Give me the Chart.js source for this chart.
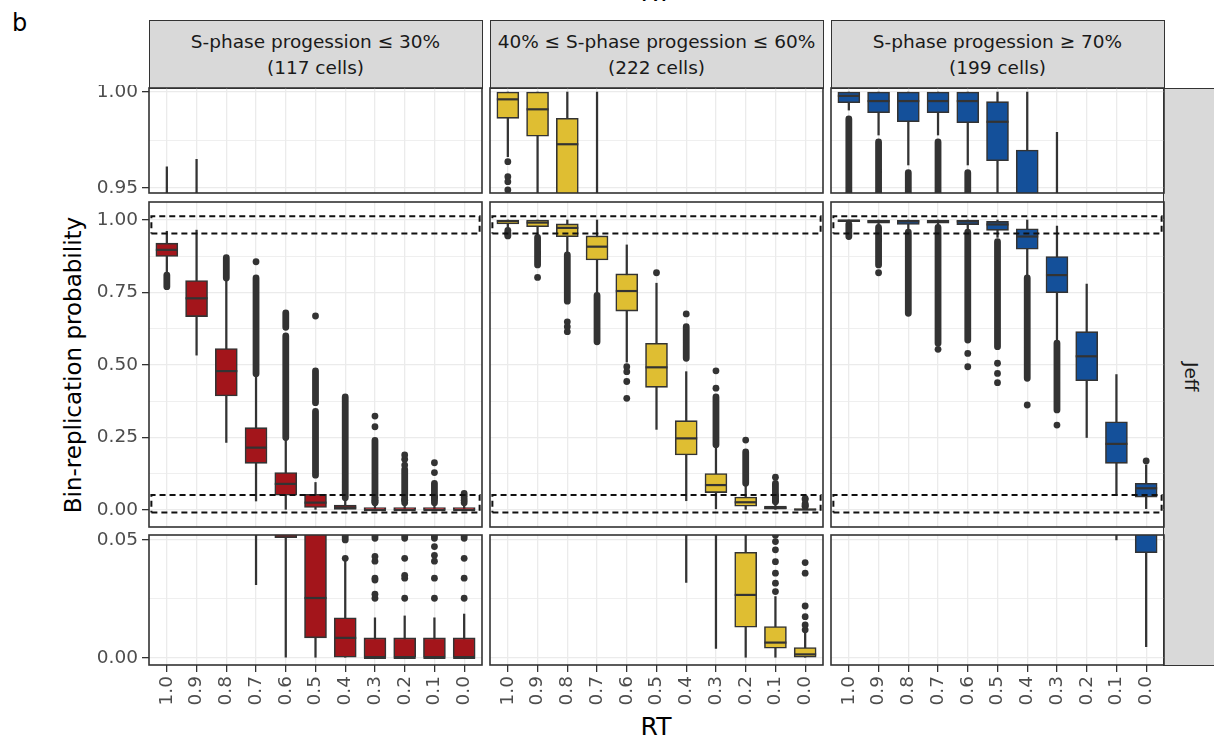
<!DOCTYPE html>
<html lang="en">
<head>
<meta charset="UTF-8">
<title>Bin-replication probability by RT</title>
<script src="https://cdn.jsdelivr.net/npm/chart.js"></script>
<style>
  body { margin: 0; background: #fff; font-family: 'DejaVu Sans', sans-serif; }
  #fig { position: relative; width: 1214px; height: 738px; overflow: hidden; background: #fff; }
  .strip-top { position: absolute; top: 20px; height: 69px; width: 334px; box-sizing: border-box;
    background: #d9d9d9; border: 1.5px solid #333; color: #1a1a1a; font-size: 18.5px; line-height: 26px;
    display: flex; flex-direction: column; justify-content: center; align-items: center; white-space: nowrap; }
  .strip-right { position: absolute; left: 1163px; top: 88px; width: 56px; height: 578px; box-sizing: border-box;
    background: #d9d9d9; border: 1.5px solid #333; color: #1a1a1a; font-size: 18.5px;
    display: flex; justify-content: center; align-items: center; }
  .strip-right span { writing-mode: vertical-rl; }
  .title { position: absolute; color: #000; white-space: nowrap; line-height: 1; }
</style>
</head>
<body>
<div id="fig">
  <div class="title" style="left:12px; top:11px; font-size:24px;">b</div>
  <div class="title" style="left:656px; top:-20px; font-size:25px; transform:translateX(-50%);">RT</div>
  <div class="title" style="left:656px; top:714px; font-size:25px; transform:translateX(-50%);">RT</div>
  <div class="title" style="left:73px; top:365px; font-size:23px; transform:translate(-50%,-50%) rotate(-90deg);">Bin-replication probability</div>
  <div class="strip-right"><span>Jeff</span></div>
</div>

<script>
// x categories (RT bins)
const rtLabels = ['1.0', '0.9', '0.8', '0.7', '0.6', '0.5', '0.4', '0.3', '0.2', '0.1', '0.0'];
const stripTitles = ['S-phase progession ≤ 30%', '40% ≤ S-phase progession ≤ 60%', 'S-phase progession ≥ 70%'];
const stripCounts = ['(117 cells)', '(222 cells)', '(199 cells)'];

// S-phase <= 30%
const lowQ1 = [0.874, 0.667, 0.393, 0.161, 0.051, 0.0085, 0, 0, 0, 0, 0];
const lowMed = [0.897, 0.730, 0.479, 0.215, 0.090, 0.0254, 0.0085, 0, 0, 0, 0];
const lowQ3 = [0.920, 0.791, 0.557, 0.284, 0.129, 0.054, 0.017, 0.0085, 0.0085, 0.0085, 0.0085];
const lowWhiskLo = [0.820, 0.534, 0.233, 0.031, 0, 0, 0, 0, 0, 0, 0];
const lowWhiskHi = [0.961, 0.965, 0.790, 0.460, 0.240, 0.095, 0.041, 0.017, 0.0178, 0.017, 0.0186];
const lowDots = [
  [], [], [], [0.856], [], [0.669], [0.0422],
  [0.0253, 0.027, 0.033, 0.0338, 0.041, 0.043, 0.287, 0.324],
  [0.0253, 0.0338, 0.035, 0.0422, 0.155, 0.175, 0.19],
  [0.0253, 0.0338, 0.041, 0.0435, 0.0472, 0.129, 0.163],
  [0.0253, 0.0338, 0.0422]
];
// dense outlier stacks, drawn as runs [from, to]
const lowRuns = [
  [[0.77, 0.81]], [], [[0.80, 0.87]], [[0.47, 0.80]], [[0.25, 0.60], [0.63, 0.68]],
  [[0.12, 0.34], [0.37, 0.48]], [[0.05, 0.39]], [[0.0507, 0.24]], [[0.0507, 0.14]],
  [[0.0507, 0.092]], [[0.0507, 0.057]]
];

// 40% <= S-phase <= 60%
const midQ1 = [0.9863, 0.977, 0.9425, 0.862, 0.686, 0.423, 0.190, 0.060, 0.013, 0.0041, 0];
const midMed = [0.9962, 0.991, 0.9728, 0.908, 0.755, 0.492, 0.247, 0.086, 0.0267, 0.0065, 0.0015];
const midQ3 = [1.000, 1.000, 0.9863, 0.945, 0.814, 0.575, 0.308, 0.126, 0.0448, 0.0133, 0.0044];
const midWhiskLo = [0.9663, 0.946, 0.885, 0.747, 0.51, 0.278, 0.032, 0.004, 0, 0, 0];
const midWhiskHi = [1.0, 1.0, 1.0, 1.0, 0.914, 0.782, 0.477, 0.215, 0.083, 0.026, 0.011];
const midDots = [
  [0.9637, 0.9559, 0.9533, 0.949, 0.945], [0.802], [0.649, 0.632, 0.615], [],
  [0.494, 0.477, 0.443, 0.385], [0.818], [0.676], [0.42, 0.48], [0.241],
  [0.0281, 0.0317, 0.0359, 0.0408, 0.0458, 0.0493, 0.113],
  [0.0119, 0.014, 0.0175, 0.022, 0.0359, 0.0404]
];
const midRuns = [
  [], [[0.845, 0.94]], [[0.72, 0.88]], [[0.58, 0.74]], [], [], [[0.523, 0.632]],
  [[0.225, 0.39]], [[0.092, 0.20]], [[0.052, 0.092]], []
];

// S-phase >= 70%
const highQ1 = [0.9944, 0.9892, 0.9845, 0.9892, 0.984, 0.9642, 0.899, 0.749, 0.446, 0.161, 0.0446];
const highMed = [0.998, 0.9953, 0.9953, 0.9953, 0.9953, 0.9845, 0.943, 0.810, 0.530, 0.228, 0.075];
const highQ3 = [1.0, 1.0, 1.0, 1.0, 1.0, 0.995, 0.9698, 0.874, 0.615, 0.304, 0.092];
const highWhiskLo = [0.9906, 0.9776, 0.962, 0.9776, 0.962, 0.94, 0.805, 0.58, 0.250, 0.050, 0.0048];
const highWhiskHi = [1.0, 1.0, 1.0, 1.0, 1.0, 1.0, 1.0, 0.979, 0.779, 0.467, 0.155];
const highDots = [[], [0.818], [], [0.554], [0.540, 0.494], [0.506, 0.471, 0.439], [0.362], [0.293], [], [], [0.169]];
const highRuns = [
  [[0.943, 0.986]], [[0.845, 0.974]], [[0.678, 0.958]], [[0.575, 0.974]], [[0.586, 0.958]],
  [[0.563, 0.925]], [[0.454, 0.80]], [[0.345, 0.575]], [], [], []
];

// y axis per row: zoomed top, full range, zoomed bottom
const rowRange = [[0.9474, 1.0021], [-0.0586, 1.062], [-0.003, 0.0521]];
const rowMajor = [[0.95, 1.0], [0, 0.25, 0.5, 0.75, 1.0], [0, 0.05]];
const rowMinor = [[0.975], [0.125, 0.375, 0.625, 0.875], [0.025]];
// dashed zoom windows on the full-range row
const zoomBands = [[0.953, 1.013], [-0.009, 0.052]];
const bandX = [-0.52, 10.52];

const fills = ['#a3151b', '#dfbe32', '#14509a'];
const columns = [
  { q1: lowQ1, med: lowMed, q3: lowQ3, lo: lowWhiskLo, hi: lowWhiskHi, dots: lowDots, runs: lowRuns },
  { q1: midQ1, med: midMed, q3: midQ3, lo: midWhiskLo, hi: midWhiskHi, dots: midDots, runs: midRuns },
  { q1: highQ1, med: highMed, q3: highQ3, lo: highWhiskLo, hi: highWhiskHi, dots: highDots, runs: highRuns }
];

const PANEL_X = [149, 490, 831];
const PANEL_W = 333;
const PANEL_Y = [88, 202, 535];
const PANEL_H = [105, 325, 130];
const Y_AXIS_W = 62;
const X_AXIS_H = 50;
const PAD = 3;
const INK = '#333333';

Chart.defaults.font.family = "'DejaVu Sans', sans-serif";

const fig = document.getElementById('fig');

stripTitles.forEach((t, c) => {
  const d = document.createElement('div');
  d.className = 'strip-top';
  d.style.left = (PANEL_X[c] - 0.5) + 'px';
  d.innerHTML = '<div>' + t + '</div><div>' + stripCounts[c] + '</div>';
  fig.appendChild(d);
});

const panelFrame = {
  id: 'panelFrame',
  afterDraw(chart) {
    const { ctx, chartArea: a } = chart;
    ctx.save();
    ctx.strokeStyle = INK;
    ctx.lineWidth = 1.6;
    ctx.strokeRect(a.left, a.top, a.right - a.left, a.bottom - a.top);
    ctx.restore();
  }
};

function noPadding(s) {
  s.paddingTop = 0; s.paddingBottom = 0; s.paddingLeft = 0; s.paddingRight = 0;
}

function panel(c, r) {
  const col = columns[c];
  const isLeft = c === 0, isBottom = r === 2;
  const w = PANEL_W + 2 * PAD + (isLeft ? Y_AXIS_W : 0);
  const h = PANEL_H[r] + 2 * PAD + (isBottom ? X_AXIS_H : 0);
  const canvas = document.createElement('canvas');
  canvas.width = w;
  canvas.height = h;
  canvas.style.cssText = 'position:absolute;left:' + (PANEL_X[c] - PAD - (isLeft ? Y_AXIS_W : 0)) +
    'px;top:' + (PANEL_Y[r] - PAD) + 'px;width:' + w + 'px;height:' + h + 'px';
  fig.appendChild(canvas);

  const majors = rowMajor[r];
  const isMajor = v => majors.some(m => Math.abs(m - v) < 1e-9);

  const datasets = [
    { type: 'bar', data: col.lo.map((v, i) => ({ x: i, y: [v, col.hi[i]] })),
      backgroundColor: INK, borderWidth: 0, barThickness: 1.6, grouped: false, order: 5, clip: 0 },
    { type: 'bar', data: col.q1.map((v, i) => ({ x: i, y: [v, col.q3[i]] })),
      backgroundColor: fills[c], borderColor: INK, borderWidth: 1.6, borderSkipped: false,
      barThickness: 22, grouped: false, order: 4, clip: 0 },
    { type: 'line', data: col.med.map((v, i) => ({ x: i, y: v })), showLine: false,
      pointStyle: 'line', pointRadius: 11, pointBorderWidth: 2.2, pointBorderColor: INK, order: 3, clip: 0 },
    { type: 'line', data: col.runs.flatMap((runs, i) => runs.flatMap(([a, b]) => [{ x: i, y: a }, { x: i, y: b }, { x: i, y: null }])),
      borderColor: INK, borderWidth: 6.8, borderCapStyle: 'round', pointRadius: 0, spanGaps: false, order: 2, clip: 0 },
    { type: 'line', data: col.dots.flatMap((d, i) => d.map(v => ({ x: i, y: v }))), showLine: false,
      pointRadius: 3.4, pointBackgroundColor: INK, pointBorderWidth: 0, order: 1, clip: 0 }
  ];
  if (r === 1) {
    datasets.push({
      type: 'line',
      data: zoomBands.flatMap(([lo, hi]) => [
        { x: bandX[0], y: lo }, { x: bandX[1], y: lo }, { x: bandX[1], y: hi },
        { x: bandX[0], y: hi }, { x: bandX[0], y: lo }, { x: bandX[0], y: null }]),
      borderColor: '#111', borderWidth: 2, borderDash: [6, 4], pointRadius: 0, spanGaps: false, order: 0, clip: 0
    });
  }

  new Chart(canvas, {
    type: 'bar',
    data: { datasets },
    options: {
      responsive: false,
      animation: false,
      events: [],
      devicePixelRatio: 1,
      layout: { padding: PAD, autoPadding: false },
      plugins: { legend: { display: false }, tooltip: { enabled: false } },
      scales: {
        x: {
          type: 'linear', min: -0.6, max: 10.6, offset: false,
          afterBuildTicks: s => { s.ticks = rtLabels.map((_, i) => ({ value: i })); },
          afterFit: s => { s.height = isBottom ? X_AXIS_H : 0; noPadding(s); },
          grid: { color: '#ebebeb', lineWidth: 1.3, offset: false, drawTicks: isBottom,
                  tickLength: 7, tickColor: INK, tickWidth: 1.3 },
          border: { display: false },
          ticks: { display: isBottom, autoSkip: false, minRotation: 90, maxRotation: 90, padding: 4,
                   color: '#4d4d4d', font: { size: 18.5 }, callback: v => rtLabels[v] }
        },
        y: {
          type: 'linear', min: rowRange[r][0], max: rowRange[r][1], beginAtZero: false,
          afterBuildTicks: s => { s.ticks = majors.concat(rowMinor[r]).sort((a, b) => a - b).map(v => ({ value: v })); },
          afterFit: s => { s.width = isLeft ? Y_AXIS_W : 0; noPadding(s); },
          grid: {
            color: '#ebebeb',
            lineWidth: ctx => (ctx.tick && !isMajor(ctx.tick.value)) ? 0.8 : 1.3,
            drawTicks: isLeft, tickLength: 7, tickWidth: 1.3,
            tickColor: ctx => (ctx.tick && !isMajor(ctx.tick.value)) ? 'rgba(0,0,0,0)' : INK
          },
          border: { display: false },
          ticks: { display: isLeft, padding: 4, color: '#4d4d4d', font: { size: 18.5 },
                   callback: v => isMajor(v) ? v.toFixed(2) : '' }
        }
      }
    },
    plugins: [panelFrame]
  });
}

for (let r = 0; r < 3; r++) {
  for (let c = 0; c < 3; c++) panel(c, r);
}
</script>
</body>
</html>
